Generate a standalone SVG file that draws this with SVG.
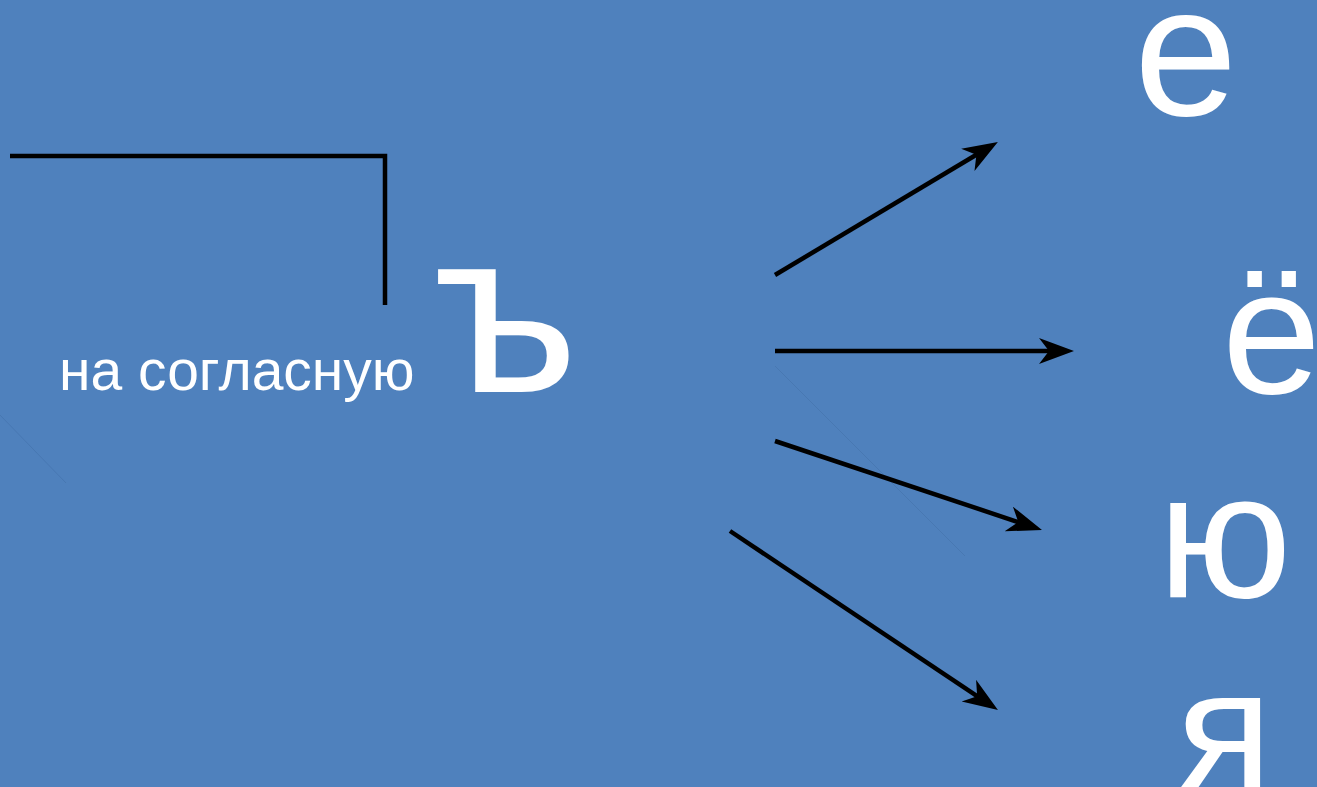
<svg xmlns="http://www.w3.org/2000/svg" width="1317" height="787" viewBox="0 0 1317 787">
<style>
.t{font-family:"Liberation Sans",Arial,sans-serif;fill:#ffffff}
.c{stroke:#000000;stroke-width:4.5;fill:none}
.a{stroke:#000000;stroke-width:4.5;fill:none;marker-end:url(#ah)}
.f{stroke:#4878b2;stroke-width:1;fill:none}
</style>
<defs>
<marker id="ah" markerUnits="userSpaceOnUse" markerWidth="40" markerHeight="30" refX="27" refY="13" orient="auto" viewBox="0 0 40 30">
<path d="M0,0 L35,13 L0,26 L10,13 Z" fill="#000000"/>
</marker>
</defs>
<rect width="1317" height="787" fill="#4f81bd"/>
<g id="faint">
<line class="f" x1="0" y1="415" x2="66" y2="483"/>
<line class="f" x1="775" y1="366" x2="965" y2="556"/>
</g>
<g id="connectors">
<polyline class="c" points="10,156 385,156 385,305"/>
<line class="a" x1="775" y1="275" x2="991" y2="146"/>
<line class="a" x1="775" y1="351" x2="1066" y2="351"/>
<line class="a" x1="775" y1="441" x2="1034.4" y2="527.5"/>
<line class="a" x1="730" y1="531" x2="991.3" y2="705.6"/>
</g>
<g id="label"><text class="t" x="59" y="390" font-size="57">на согласную</text></g>
<g id="hard-sign"><text class="t" x="433" y="392" font-size="232">ъ</text></g>
<g id="e"><text class="t" x="1134" y="115" font-size="186">е</text></g>
<g id="yo"><text class="t" x="1222" y="393" font-size="178">ё</text></g>
<g id="yu"><text class="t" x="1158" y="597" font-size="178">ю</text></g>
<g id="ya"><text class="t" x="1176" y="792" font-size="178">я</text></g>
</svg>
